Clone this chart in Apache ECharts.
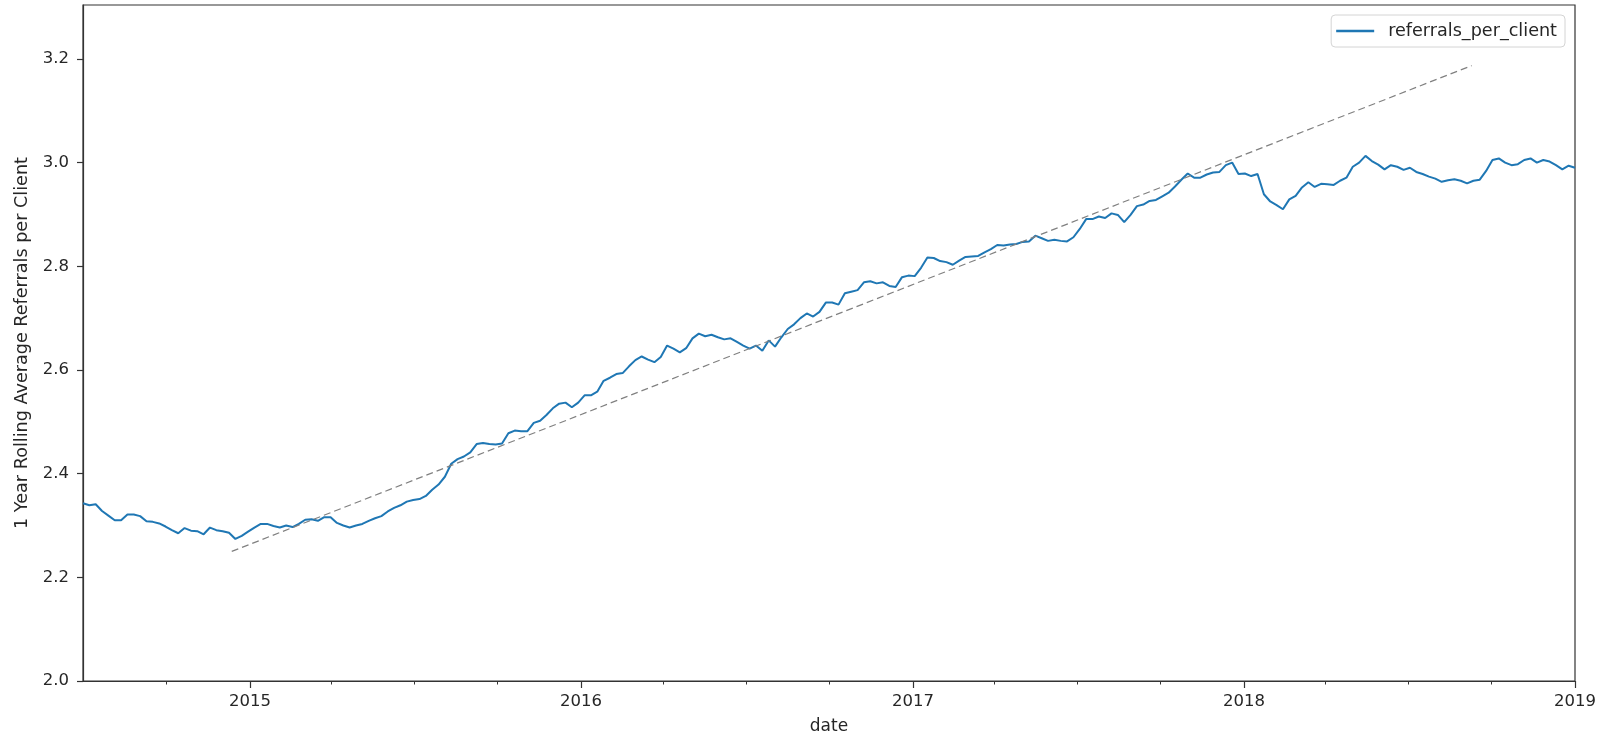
<!DOCTYPE html>
<html>
<head>
<meta charset="utf-8">
<title>referrals per client</title>
<script src="https://cdn.jsdelivr.net/npm/echarts@6/dist/echarts.min.js"></script>
<style>
  html, body { margin: 0; padding: 0; background: #fff; }
  #chart { width: 1607px; height: 740px; }
</style>
</head>
<body>
<div id="chart"></div>
<script>
// weekly samples of the 1 year rolling average, starting 2014-07-01
const startDate = "2014-07-01";
const stepDays = 7;
const referrals = [
  2.343, 2.339, 2.341, 2.328, 2.319, 2.310, 2.310, 2.321, 2.321, 2.318,
  2.308, 2.307, 2.304, 2.298, 2.291, 2.285, 2.295, 2.290, 2.289, 2.283,
  2.296, 2.291, 2.289, 2.286, 2.274, 2.280, 2.288, 2.296, 2.303, 2.303,
  2.299, 2.296, 2.300, 2.297, 2.303, 2.311, 2.312, 2.309, 2.316, 2.316,
  2.305, 2.300, 2.296, 2.300, 2.303, 2.309, 2.314, 2.318, 2.327, 2.334,
  2.339, 2.346, 2.349, 2.351, 2.357, 2.369, 2.379, 2.394, 2.419, 2.428,
  2.433, 2.441, 2.457, 2.459, 2.457, 2.456, 2.458, 2.478, 2.483, 2.482,
  2.482, 2.498, 2.502, 2.513, 2.526, 2.535, 2.537, 2.528, 2.537, 2.551,
  2.551, 2.558, 2.579, 2.585, 2.592, 2.594, 2.607, 2.619, 2.626, 2.620,
  2.615, 2.625, 2.647, 2.641, 2.634, 2.642, 2.661, 2.670, 2.665, 2.668,
  2.663, 2.659, 2.661, 2.654, 2.647, 2.641, 2.647, 2.637, 2.657, 2.645,
  2.663, 2.679, 2.688, 2.700, 2.709, 2.703, 2.712, 2.730, 2.730, 2.726,
  2.748, 2.751, 2.754, 2.769, 2.771, 2.767, 2.769, 2.762, 2.760, 2.779,
  2.782, 2.781, 2.797, 2.817, 2.816, 2.810, 2.808, 2.803, 2.811, 2.818,
  2.819, 2.820, 2.827, 2.833, 2.841, 2.840, 2.842, 2.843, 2.847, 2.848,
  2.859, 2.854, 2.849, 2.851, 2.849, 2.848, 2.856, 2.872, 2.891, 2.891,
  2.896, 2.893, 2.902, 2.899, 2.885, 2.899, 2.916, 2.919, 2.926, 2.928,
  2.935, 2.942, 2.954, 2.967, 2.979, 2.971, 2.971, 2.977, 2.981, 2.982,
  2.995, 3.000, 2.978, 2.979, 2.974, 2.978, 2.939, 2.925, 2.918, 2.910,
  2.929, 2.936, 2.952, 2.962, 2.953, 2.959, 2.958, 2.957, 2.965, 2.971,
  2.992, 3.000, 3.013, 3.003, 2.996, 2.987, 2.995, 2.992, 2.986, 2.990,
  2.982, 2.978, 2.973, 2.969, 2.963, 2.966, 2.968, 2.965, 2.960, 2.965,
  2.967, 2.984, 3.005, 3.008, 3.000, 2.995, 2.997, 3.005, 3.008, 3.000,
  3.005, 3.002, 2.995, 2.987, 2.994, 2.990
];

// dashed trend line end points
const trendDates = ["2014-12-12", "2018-09-09"];
const trendValues = [2.25, 3.187];

const yTicks = [2.0, 2.2, 2.4, 2.6, 2.8, 3.0, 3.2];
const yearTicks = ["2015-01-01", "2016-01-01", "2017-01-01", "2018-01-01", "2019-01-01"];
const quarterTicks = [
  "2014-10-01", "2015-04-01", "2015-07-01", "2015-10-01",
  "2016-04-01", "2016-07-01", "2016-10-01",
  "2017-04-01", "2017-07-01", "2017-10-01",
  "2018-04-01", "2018-07-01", "2018-10-01"
];

const DAY = 24 * 3600 * 1000;
const t0 = Date.parse(startDate);
const lineData = referrals.map((v, i) => [t0 + i * stepDays * DAY, v]);
const trendData = trendDates.map((d, i) => [Date.parse(d), trendValues[i]]);

const font = "DejaVu Sans";
const ink = "#262626";
const xMin = Date.parse("2014-07-01");
const xMax = Date.parse("2019-01-01");

const chart = echarts.init(document.getElementById("chart"));
chart.setOption({
  animation: false,
  textStyle: { fontFamily: font },
  grid: {
    left: 83, right: 32, top: 5, bottom: 55,
    show: true, borderColor: "#333", borderWidth: 1.2,
    containLabel: false
  },
  legend: {
    data: ["referrals_per_client"],
    right: 42, top: 15,
    icon: "rect",
    itemWidth: 38, itemHeight: 2.5,
    padding: [7, 8, 7, 5],
    borderColor: "#d4d4d4", borderWidth: 1, borderRadius: 4,
    backgroundColor: "#fff",
    textStyle: { fontFamily: font, fontSize: 17.6, color: ink, padding: [0, 0, 0, 9] }
  },
  xAxis: [
    {
      type: "value",
      min: xMin, max: xMax,
      name: "date",
      nameLocation: "middle",
      nameGap: 37,
      nameTextStyle: { fontFamily: font, fontSize: 17, color: ink },
      axisLine: { lineStyle: { color: "#333", width: 1.2 } },
      axisTick: {
        customValues: yearTicks.map(d => Date.parse(d)),
        length: 7, lineStyle: { color: "#333", width: 1.2 }
      },
      axisLabel: {
        customValues: yearTicks.map(d => Date.parse(d)),
        formatter: v => String(new Date(v).getUTCFullYear()),
        fontFamily: font, fontSize: 16.5, color: ink, margin: 12
      },
      splitLine: { show: false }
    },
    {
      type: "value",
      min: xMin, max: xMax,
      position: "bottom",
      axisLine: { show: false },
      axisTick: {
        customValues: quarterTicks.map(d => Date.parse(d)),
        length: 3.5, lineStyle: { color: "#333", width: 1 }
      },
      axisLabel: { show: false },
      splitLine: { show: false }
    }
  ],
  yAxis: {
    type: "value",
    min: 2.0, max: 3.304,
    name: "1 Year Rolling Average Referrals per Client",
    nameLocation: "middle",
    nameRotate: 90,
    nameGap: 50,
    nameTextStyle: { fontFamily: font, fontSize: 17.6, color: ink },
    axisLine: { show: true, lineStyle: { color: "#333", width: 1.2 } },
    axisTick: { show: true, customValues: yTicks, length: 6, lineStyle: { color: "#333", width: 1.2 } },
    axisLabel: {
      customValues: yTicks,
      formatter: v => v.toFixed(1),
      fontFamily: font, fontSize: 16.5, color: ink, margin: 14
    },
    splitLine: { show: false }
  },
  series: [
    {
      name: "referrals_per_client",
      type: "line",
      data: lineData,
      symbol: "none",
      itemStyle: { color: "#1f77b4" },
      lineStyle: { color: "#1f77b4", width: 2 }
    },
    {
      name: "trend",
      type: "line",
      data: trendData,
      symbol: "none",
      silent: true,
      itemStyle: { color: "#808080" },
      lineStyle: { color: "#808080", width: 1.2, type: [7, 4] }
    }
  ]
});
</script>
</body>
</html>
